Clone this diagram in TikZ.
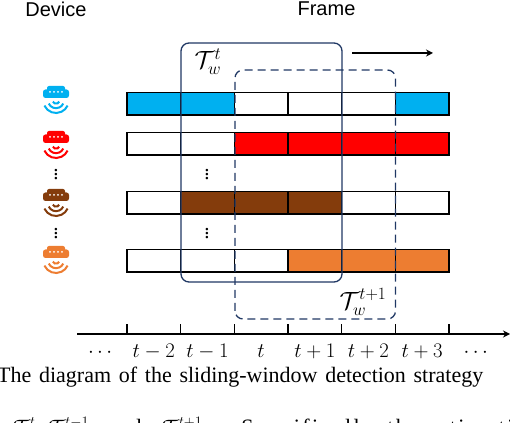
\documentclass[tikz,border=0pt]{standalone}
\usepackage{fontspec}
\setmainfont{Liberation Serif}
\newfontfamily\labelfont{Liberation Sans}
\newfontfamily\widefont[LetterSpace=11]{Liberation Serif}
\usetikzlibrary{arrows.meta,positioning,calc}
\definecolor{winblue}{HTML}{203864}
\definecolor{devblue}{HTML}{00B0F0}
\definecolor{devred}{HTML}{FF0000}
\definecolor{devbrown}{HTML}{843C0C}
\definecolor{devorange}{HTML}{ED7D31}
\newcommand{\capwide}{\spaceskip 7.7pt\relax}
\tikzset{
  cellbox/.style={draw=black,line width=1.2pt},
  slotwin/.style={draw=winblue,line width=1.3pt,rounded corners=8pt},
  timelabel/.style={font=\fontsize{20.5}{24}\selectfont,anchor=base},
  winlabel/.style={font=\fontsize{23}{26}\selectfont},
  vdotlabel/.style={font=\fontsize{21}{21}\selectfont,inner sep=0pt},
  headlabel/.style={font=\labelfont\fontsize{20}{24}\selectfont},
  captext/.style={font=\fontsize{22}{26}\selectfont,anchor=base west,inner sep=0pt},
  device/.pic={
    \fill[pic actions,draw=none,rounded corners=2pt] (-9,5) rectangle (9,12.5);
    \fill[pic actions,draw=none,rounded corners=2.5pt] (-13,0.5) rectangle (13,9);
    \foreach \d in {-6,-2,2,6}{\fill[white] (\d,6.5) circle (1);}
    \foreach \r in {3.5,8,12.8}{
    \draw[pic actions,fill=none,line width=2pt] (0,-1.7) ++(205:\r) arc (205:335:\r);}
  }
}
\begin{document}
\begin{tikzpicture}[x=1pt,y=1pt]
\useasboundingbox (0,0) rectangle (510,422);
\clip (0,0) rectangle (510,422);
% rows of frames
\foreach \y in {307,267,208,150}{
\foreach \c in {0,...,5}{
\draw[cellbox,fill=white] (127+53.67*\c,\y) rectangle (127+53.67*\c+53.67,\y+22.5);}}
\foreach \c/\y/\clr in {0/307/devblue,1/307/devblue,5/307/devblue,2/267/devred,3/267/devred,4/267/devred,5/267/devred,1/208/devbrown,2/208/devbrown,3/208/devbrown,3/150/devorange,4/150/devorange,5/150/devorange}{
\draw[cellbox,fill=\clr] (127+53.67*\c,\y) rectangle (127+53.67*\c+53.67,\y+22.5);}
% devices
\foreach \y/\clr in {323.5/devblue,278.5/devred,220.5/devbrown,163.5/devorange}{
\pic[fill=\clr,draw=\clr] at (56,\y) {device};}
\node[vdotlabel] (dotsa) at (56,250.5) {$\vdots$};
\node[vdotlabel] (dotsb) at (56,191) {$\vdots$};
\node[vdotlabel] (dotsc) at (207,250.5) {$\vdots$};
\node[vdotlabel] (dotsd) at (207,191) {$\vdots$};
% sliding windows
\draw[slotwin] (181,140) rectangle (342,379);
\draw[slotwin,dashed,dash pattern=on 8pt off 5pt] (235,103) rectangle (395.5,352);
\node[winlabel] (wint) at (208,360) {$\mathcal{T}_w^{t}$};
\node[winlabel] (wintt) at (363,120) {$\mathcal{T}_w^{t+1}$};
\coordinate (movea) at (352,369);
\coordinate (moveb) at (433,369);
\draw[line width=1.2pt,-{Stealth[length=7pt,width=7pt]}] (movea)--(moveb);
% time axis
\coordinate (axisa) at (77,88);
\coordinate (axisb) at (510,88);
\draw[line width=1.2pt,-{Stealth[length=7pt,width=7pt]}] (axisa)--(axisb);
\foreach \c in {0,...,6}{
\draw[line width=1.2pt] (127+53.67*\c,88)--(127+53.67*\c,98);}
\foreach \c/\name in {-1/\cdots,0/t-2,1/t-1,2/t,3/t+1,4/t+2,5/t+3,6/\cdots}{
\node[timelabel] at (127+53.67*\c+26.8,64) {$\name$};}
\node[headlabel] (device) at (56,413) {Device};
\node[headlabel] (frame) at (326.5,413) {Frame};
\node[captext] (capa) at (-3,39) {\capwide The diagram of the sliding-window detection strategy};
\node[captext] (capb) at (13,-12) {\capwide $\mathcal{T}^{t}_w$, $\mathcal{T}^{t-1}_w$\hspace{13pt} and\hspace{13pt} $\mathcal{T}^{t+1}_w$.\hspace{24pt} {\widefont Specifically, the estimation}};
\end{tikzpicture}
\end{document}
